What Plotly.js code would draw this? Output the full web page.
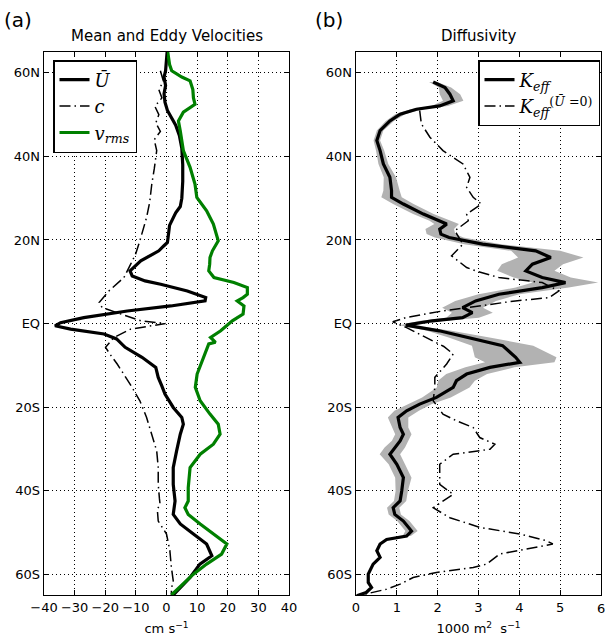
<!DOCTYPE html>
<html>
<head>
<meta charset="utf-8">
<script src="https://cdn.plot.ly/plotly-3.0.1.min.js"></script>
<style>html,body{margin:0;padding:0;background:#fff;}#chart{width:605px;height:640px;}</style>
</head>
<body>
<div id="chart"></div>
<script>
// ---------- Panel (a): mean and eddy velocities (cm/s) ----------
const uBarLat = [65,62,60.5,59,57,55,53,51,49,47.5,45,42,38,34,30,28,26.5,25,23.5,20.5,19.4,18.5,17.4,15,12.6,11.4,10.2,9.4,7.8,6.2,5.4,4.2,3.0,1.4,0.2,-0.55,-1.35,-2.5,-3.7,-5.7,-8.1,-10.5,-12.9,-15,-16.9,-20.1,-22.5,-24.1,-26.5,-30.5,-34.5,-38.5,-42.5,-45.7,-48,-50.4,-52.8,-55.6,-57.6,-60.8,-63.2,-65];
const uBar    = [0.2,0.0,-0.3,-0.8,-0.3,-0.8,-0.5,0.3,2.0,3.0,4.2,5.0,5.3,5.3,5.0,4.5,3.0,2.0,1.0,0.5,0.3,-1.0,-2.5,-8.4,-11.9,-11.2,-7.0,-1.9,6.8,12.8,12.6,1.4,-12.8,-27.0,-34.6,-36.4,-31.3,-20.4,-16.3,-13.5,-8.0,-3.5,-2.7,-1.5,-0.5,2.2,5.0,5.5,4.5,3.3,2.2,2.2,2.8,2.2,4.5,8.8,13.1,14.8,10.9,7.7,4.5,2.2];

const cLat = [60.5,58,56,54,52,50,48,46,44,41.4,37,33.4,29,25.4,19.8,16.6,14.2,11,7.8,5,3.8,2.6,0.65,0,-0.8,-1.35,-3.35,-5.7,-7.3,-9.7,-14.5,-18.5,-22.5,-26.5,-30.5,-34.5,-38.5,-42,-43.3,-44.5,-47.3,-50.4,-54.4,-58.4,-61.6,-63.5,-65];
const cVel = [-2.0,-1.0,-2.5,-1.5,-3.8,-2.5,-3.5,-2.0,-4.0,-3.2,-4.0,-4.8,-5.5,-6.5,-8.7,-10.1,-11.7,-13.9,-18.8,-22.0,-21.0,-16.1,-8.4,-0.3,-7.4,-11.7,-17.2,-19.9,-18.5,-16.1,-11.9,-8.7,-6.5,-4.8,-3.2,-2.7,-2.7,-2.3,-2.1,-3.0,-2.7,0.0,1.1,1.6,2.2,1.6,1.6];

const vrmsLat = [65,62,60.5,59,58.1,56,54,52.5,50.6,48.5,46.1,41.4,37.4,33.4,30.2,27,23.8,19.8,17.4,15.8,14.2,12.6,11,9.8,8.6,7,6.2,5.4,4.2,2.25,0.65,-1.75,-3.35,-4.5,-4.9,-8.1,-9.7,-12.1,-15.3,-18.5,-21.7,-24.1,-26.5,-28.9,-31.3,-34.5,-39.3,-42.5,-44.1,-45.7,-48,-50.4,-52.8,-55.2,-57.6,-60,-62.4,-65];
const vrms    = [0.4,1.0,1.7,5.0,7.7,8.6,8.8,9.3,5.5,3.9,4.5,5.5,7.7,9.3,9.9,13.1,15.3,16.9,15.0,14.2,14.1,13.8,15.5,22.0,26.4,26.4,25.0,23.1,25.3,25.0,21.5,17.7,14.4,16.0,13.8,12.0,11.2,10.0,9.4,11.0,14.2,16.9,17.5,15.3,11.0,7.7,7.1,7.1,6.0,7.1,11.0,15.3,19.7,18.0,13.1,8.8,5.5,1.6];

// ---------- Panel (b): diffusivity (1000 m^2/s) ----------
const kLat = [57.8,56.5,54.9,53.3,52.1,51.3,50.1,48.5,46.2,43.8,41.4,38.2,35,31.8,30.2,28.6,26.2,24.6,23.8,22.6,21.4,20.6,19,17.4,15.8,14.2,12.6,11,9.8,8.6,7,5.4,3.8,2.6,1.4,0.65,-0.4,-1.75,-3.35,-5.3,-8.1,-9.3,-10.5,-12.1,-13.7,-15.3,-17.7,-19.3,-20.9,-22.5,-24.9,-26.5,-28.1,-29.7,-31.3,-33.7,-36.9,-40.1,-42.5,-44.1,-45.7,-47.3,-49.7,-50.9,-51.7,-52.8,-54.4,-56,-57.6,-60,-62,-63.2,-64.4,-65.2];
const kEff = [1.89,2.18,2.30,2.38,2.05,1.48,1.08,0.83,0.59,0.51,0.59,0.67,0.83,0.87,0.87,1.16,1.65,2.05,2.22,2.05,2.08,2.28,3.10,4.40,4.77,4.32,4.16,4.56,5.13,4.56,3.50,2.93,2.61,2.85,2.61,1.87,1.22,2.04,2.77,3.59,3.91,4.01,3.28,2.71,2.46,2.38,1.97,1.56,1.24,1.03,1.08,1.16,1.08,0.95,0.83,1.00,1.16,1.12,1.08,0.91,0.95,1.16,1.36,1.24,0.75,0.59,0.51,0.59,0.42,0.30,0.30,0.38,0.25,0.02];
// half-width of the grey uncertainty band (null = no band)
const kErr = [0.10,0.15,0.25,0.25,0.20,0.15,0.12,0.10,0.08,0.08,0.10,0.12,0.15,0.20,0.25,0.25,0.25,0.25,0.30,0.35,0.35,0.35,0.45,0.60,0.80,0.75,0.70,0.70,0.80,0.65,0.50,0.50,0.50,0.50,0.40,0.30,0.15,0.30,0.50,0.75,1.00,0.85,0.60,0.50,0.45,0.40,0.35,0.30,0.30,0.25,0.20,0.20,0.20,0.25,0.25,0.20,0.20,0.15,0.15,0.15,0.15,0.15,0.15,0.10,null,null,null,null,null,null,null,null,null,null];

const k0Lat = [51,47.8,44.6,41.4,38.2,35,32.6,30.2,28.6,26.2,24.6,22.2,19,16.2,13.4,12.6,11,9.8,7.8,6.2,5.4,4.6,3.0,1.4,0.4,-1,-3.4,-5.5,-7.3,-9.7,-12.9,-15.3,-18.5,-21.7,-23.3,-24.9,-27.3,-28.9,-30.1,-31.3,-33.7,-36.9,-38.5,-40.9,-42.5,-44.1,-46.5,-48.8,-50.4,-52,-52.8,-54,-55.2,-57.6,-58.4,-59.6,-60.8,-62.4,-63.6,-65.2];
const k0 = [1.56,1.60,1.81,2.13,2.62,2.79,2.71,2.87,3.07,2.71,2.75,2.42,2.62,2.34,2.71,2.93,3.50,4.56,4.97,4.73,3.90,3.26,2.12,1.22,0.90,1.24,1.73,2.15,2.38,2.22,1.93,1.93,1.89,2.13,2.46,2.87,3.03,3.40,3.28,2.38,2.05,2.05,2.05,2.38,2.13,1.89,2.30,3.03,4.01,4.66,4.82,4.17,3.52,3.20,2.87,1.97,1.40,1.08,0.75,0.05];

// ---------- ticks ----------
const latTicks = [60,40,20,0,-20,-40,-60];
const latTickText = ['60N','40N','20N','EQ','20S','40S','60S'];
const velTicks = [-40,-30,-20,-10,0,10,20,30,40];
const velTickText = ['\u221240','\u221230','\u221220','\u221210','0','10','20','30','40'];
const kTicks = [0,1,2,3,4,5,6];
const kTickText = ['0','1','2','3','4','5','6'];

// band polygon built from the band arrays
const bandLat = [], bandLo = [], bandHi = [];
for (let i = 0; i < kLat.length; i++) {
  if (kErr[i] !== null) { bandLat.push(kLat[i]); bandLo.push(kEff[i] - kErr[i]); bandHi.push(kEff[i] + kErr[i]); }
}
const bandX = bandLo.concat(bandHi.slice().reverse());
const bandY = bandLat.concat(bandLat.slice().reverse());

const dashDot = '11px,4px,1.5px,4px';
const traces = [
  {x: uBar, y: uBarLat, xaxis:'x', yaxis:'y', mode:'lines', name:'<i>Ū</i>', line:{color:'black', width:3.2}, legend:'legend'},
  {x: cVel, y: cLat, xaxis:'x', yaxis:'y', mode:'lines', name:'<i>c</i>', line:{color:'black', width:1.5, dash:dashDot}, legend:'legend'},
  {x: vrms, y: vrmsLat, xaxis:'x', yaxis:'y', mode:'lines', name:'<i>v</i><sub><i>rms</i></sub>', line:{color:'green', width:3.2}, legend:'legend'},
  {x: bandX, y: bandY, xaxis:'x2', yaxis:'y2', mode:'lines', fill:'toself', fillcolor:'rgb(178,178,178)', line:{width:0, color:'rgba(0,0,0,0)'}, showlegend:false, hoverinfo:'skip'},
  {x: kEff, y: kLat, xaxis:'x2', yaxis:'y2', mode:'lines', name:'<i>K</i><sub><i>eff</i></sub>', line:{color:'black', width:3.2}, legend:'legend2'},
  {x: k0, y: k0Lat, xaxis:'x2', yaxis:'y2', mode:'lines', name:'<i>K</i><sub><i>eff</i></sub><sup>(<i>Ū</i> =0)</sup>', line:{color:'black', width:1.5, dash:dashDot}, legend:'legend2'}
];

// the last tick label of panel (b) sits on the page edge, so it is drawn as an annotation
const kAxisText = kTickText.slice(0, -1).concat(['']);

const axisCommon = {
  ticks:'inside', ticklen:5, tickwidth:1, tickcolor:'black',
  showline:true, linecolor:'black', linewidth:1.3, mirror:'allticks',
  showgrid:true, gridcolor:'black', griddash:'1px,3px', gridwidth:1,
  zeroline:false, tickfont:{family:'DejaVu Sans', size:13, color:'black'},
  tickmode:'array', ticklabeloverflow:'allow'
};
const yTop = 1 - 52/640, yBot = 1 - 595/640;

const layout = {
  width:605, height:640,
  margin:{l:0, r:0, t:0, b:0},
  paper_bgcolor:'white', plot_bgcolor:'white',
  font:{family:'DejaVu Sans', size:13, color:'black'},
  showlegend:true,
  xaxis: Object.assign({}, axisCommon, {domain:[44/605, 289/605], range:[-40,40], anchor:'y', tickvals:velTicks, ticktext:velTickText,
    title:{text:'cm s<sup>\u22121</sup>', font:{size:13}, standoff:10}}),
  yaxis: Object.assign({}, axisCommon, {domain:[yBot, yTop], range:[-65,65], anchor:'x', tickvals:latTicks, ticktext:latTickText}),
  xaxis2: Object.assign({}, axisCommon, {domain:[356/605, 601/605], range:[0,6], anchor:'y2', tickvals:kTicks, ticktext:kAxisText,
    title:{text:'1000 m<sup>2</sup>  s<sup>\u22121</sup>', font:{size:13}, standoff:10}}),
  yaxis2: Object.assign({}, axisCommon, {domain:[yBot, yTop], range:[-65,65], anchor:'x2', tickvals:latTicks, ticktext:latTickText}),
  legend: {x:53/605, y:1-60/640, xanchor:'left', yanchor:'top', bgcolor:'white', bordercolor:'black', borderwidth:1.5,
    font:{family:'DejaVu Serif', size:18, color:'black'}, tracegroupgap:0, itemwidth:30},
  legend2: {x:600/605, y:1-60/640, xanchor:'right', yanchor:'top', bgcolor:'white', bordercolor:'black', borderwidth:1.5,
    font:{family:'DejaVu Serif', size:18, color:'black'}, tracegroupgap:0, itemwidth:30},
  annotations: [
    {text:'(a)', xref:'paper', yref:'paper', x:18/605, y:1-20/640, xanchor:'center', yanchor:'middle', showarrow:false, font:{family:'DejaVu Sans', size:20}},
    {text:'(b)', xref:'paper', yref:'paper', x:329/605, y:1-20/640, xanchor:'center', yanchor:'middle', showarrow:false, font:{family:'DejaVu Sans', size:20}},
    {text:'Mean and Eddy Velocities', xref:'paper', yref:'paper', x:166.5/605, y:1-36/640, xanchor:'center', yanchor:'middle', showarrow:false, font:{family:'DejaVu Sans', size:15}},
    {text:'Diffusivity', xref:'paper', yref:'paper', x:478.5/605, y:1-36/640, xanchor:'center', yanchor:'middle', showarrow:false, font:{family:'DejaVu Sans', size:15}},
    {text:kTickText[kTickText.length-1], xref:'x2', yref:'paper', x:kTicks[kTicks.length-1], y:1-608/640, xanchor:'center', yanchor:'middle', showarrow:false, font:{family:'DejaVu Sans', size:13}}
  ]
};

Plotly.newPlot('chart', traces, layout, {staticPlot:true, displayModeBar:false});
</script>
</body>
</html>
